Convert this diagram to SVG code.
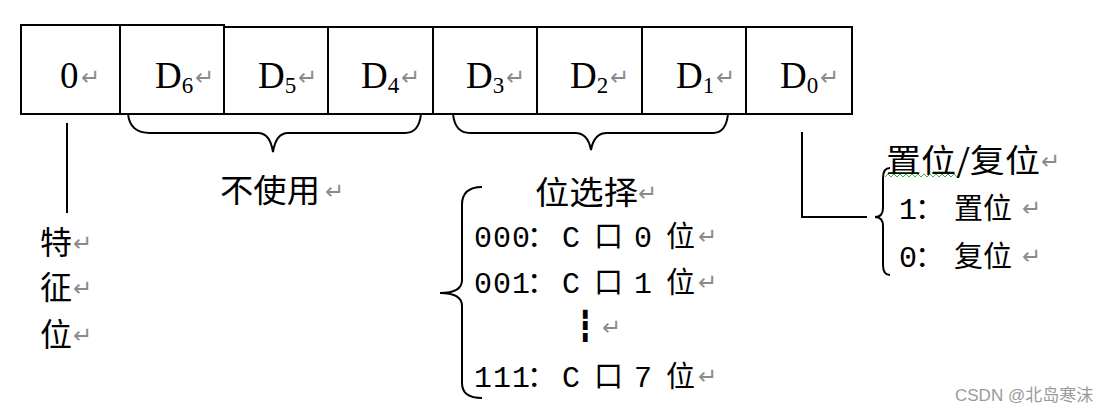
<svg xmlns="http://www.w3.org/2000/svg" width="1107" height="414" viewBox="0 0 1107 414">
<style>
.box{fill:#fff;stroke:#000;stroke-width:2}
.ln{fill:none;stroke:#000;stroke-width:2}
.d{font-family:"Liberation Serif",serif;font-size:37px;fill:#000}
.sub{font-size:23px}
.rt{font-family:"DejaVu Sans",sans-serif;font-size:23px;fill:#8a8a8a}
.cjk{font-family:"Noto Sans CJK SC",sans-serif;font-size:32px;fill:#000}
.row{font-family:"Liberation Mono","Noto Sans CJK SC",monospace;font-size:30px;fill:#000}
.rc{font-family:"Noto Sans CJK SC",sans-serif;font-size:29px}
.wm{font-family:"Liberation Sans","Noto Sans CJK SC",sans-serif;font-size:17px;fill:#9a9a9a}
</style>
<rect width="1107" height="414" fill="#fff"/>
<g id="connectors">
<path class="ln" d="M67,123 L67,213"/>
<path class="ln" d="M802,132 L802,217 L867,217"/>
<path class="ln" d="M128,114 Q130,133 150,133 L258,133 Q270,133 273,152 Q276,133 288,133 L405,133 Q419,133 421,114"/>
<path class="ln" d="M453,114 Q455,133 470,133 L575,133 Q588,133 591,150 Q594,133 607,133 L713,133 Q726,133 728,114"/>
<path class="ln" d="M482,187 Q462,187 462,205 L462,280 Q462,293 440,293 Q462,293 462,306 L462,383 Q462,398 482,398"/>
<path class="ln" d="M890,168 Q883,168 883,178 L883,208 Q883,217 875,217 Q883,217 883,226 L883,265 Q883,275 890,275"/>
</g>
<g id="b7"><rect class="box" x="21" y="25" width="99" height="89"/><text class="d" x="60" y="88">0</text><text class="rt" x="81" y="85">↵</text></g>
<g id="b6"><rect class="box" x="120" y="25" width="104" height="89"/><text class="d" x="155" y="88">D<tspan class="sub" dy="5">6</tspan></text><text class="rt" x="195" y="85">↵</text></g>
<g id="b5"><rect class="box" x="224" y="27" width="104" height="87"/><text class="d" x="258" y="88">D<tspan class="sub" dy="5">5</tspan></text><text class="rt" x="298" y="85">↵</text></g>
<g id="b4"><rect class="box" x="328" y="27" width="105" height="87"/><text class="d" x="361" y="88">D<tspan class="sub" dy="5">4</tspan></text><text class="rt" x="401" y="85">↵</text></g>
<g id="b3"><rect class="box" x="433" y="27" width="104" height="87"/><text class="d" x="466" y="88">D<tspan class="sub" dy="5">3</tspan></text><text class="rt" x="506" y="85">↵</text></g>
<g id="b2"><rect class="box" x="537" y="27" width="105" height="87"/><text class="d" x="570" y="88">D<tspan class="sub" dy="5">2</tspan></text><text class="rt" x="610" y="85">↵</text></g>
<g id="b1"><rect class="box" x="642" y="27" width="104" height="87"/><text class="d" x="676" y="88">D<tspan class="sub" dy="5">1</tspan></text><text class="rt" x="716" y="85">↵</text></g>
<g id="b0"><rect class="box" x="746" y="27" width="106" height="87"/><text class="d" x="780" y="88">D<tspan class="sub" dy="5">0</tspan></text><text class="rt" x="820" y="85">↵</text></g>
<g id="tezheng">
<text class="cjk" x="40" y="254">特</text><text class="rt" x="73" y="251">↵</text>
<text class="cjk" x="40" y="299">征</text><text class="rt" x="73" y="296">↵</text>
<text class="cjk" x="40" y="346">位</text><text class="rt" x="73" y="343">↵</text>
</g>
<g id="bushiyong"><text class="cjk" x="220" y="202" textLength="100" lengthAdjust="spacingAndGlyphs">不使用</text><text class="rt" x="325" y="199">↵</text></g>
<g id="weixuanze">
<text class="cjk" x="535" y="204" font-size="29" textLength="103" lengthAdjust="spacingAndGlyphs">位选择</text><text class="rt" x="638" y="201">↵</text>
<text class="row" y="247"><tspan x="474 493 512">000</tspan><tspan class="rc" x="527">：</tspan><tspan x="562">C</tspan><tspan class="rc" x="594">口</tspan><tspan x="634">0</tspan><tspan class="rc" x="666">位</tspan></text><text class="rt" x="698" y="244">↵</text>
<text class="row" y="293"><tspan x="474 493 512">001</tspan><tspan class="rc" x="527">：</tspan><tspan x="562">C</tspan><tspan class="rc" x="594">口</tspan><tspan x="634">1</tspan><tspan class="rc" x="666">位</tspan></text><text class="rt" x="698" y="290">↵</text>
<text x="576" y="336" font-family="DejaVu Sans Mono,monospace" font-size="30" fill="#000">┇</text><text class="rt" x="602" y="335">↵</text>
<text class="row" y="387"><tspan x="474 493 512">111</tspan><tspan class="rc" x="527">：</tspan><tspan x="562">C</tspan><tspan class="rc" x="594">口</tspan><tspan x="634">7</tspan><tspan class="rc" x="666">位</tspan></text><text class="rt" x="698" y="384">↵</text>
</g>
<g id="zhiwei">
<text class="cjk" x="886" y="172" textLength="154" lengthAdjust="spacingAndGlyphs">置位/复位</text><text class="rt" x="1041" y="169">↵</text>
<path d="M885,177 l3,-3 l3,3 l3,-3 l3,3 l3,-3 l3,3 l3,-3 l3,3 l3,-3 l3,3 l3,-3 l3,3 l3,-3 l3,3 l3,-3 l3,3 l3,-3 l3,3 l3,-3 l3,3 l3,-3 l3,3 l3,-3 l3,3" fill="none" stroke="#3cb43c" stroke-width="1"/>
<text class="row" y="219"><tspan x="899">1</tspan><tspan class="rc" x="915">：</tspan><tspan class="rc" font-size="32" x="954">置位</tspan></text><text class="rt" x="1022" y="216">↵</text>
<text class="row" y="267"><tspan x="899">0</tspan><tspan class="rc" x="915">：</tspan><tspan class="rc" font-size="32" x="954">复位</tspan></text><text class="rt" x="1022" y="264">↵</text>
</g>
<text class="wm" x="955" y="401">CSDN @北岛寒沫</text>
</svg>
